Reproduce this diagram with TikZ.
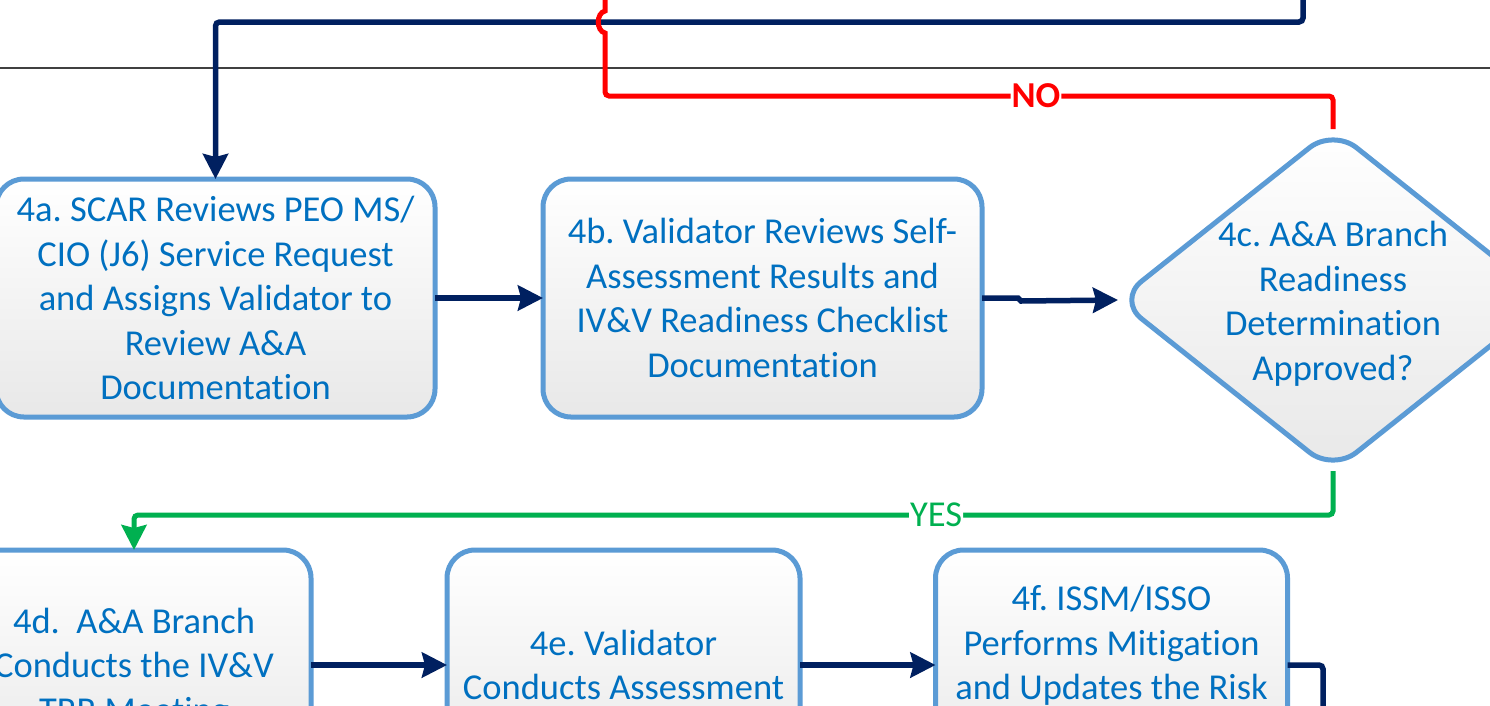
\documentclass[tikz,border=0pt]{standalone}
\usepackage{fontspec}
\setmainfont{Carlito}[Ligatures=NoCommon]
\usetikzlibrary{shapes.geometric,arrows.meta}
\definecolor{navy}{HTML}{002060}
\definecolor{txtblue}{HTML}{0070C0}
\definecolor{bordblue}{HTML}{5B9BD5}
\definecolor{ggreen}{HTML}{00B050}
\definecolor{sepgray}{HTML}{404040}
\frenchspacing
\begin{document}
\begin{tikzpicture}[x=1pt,y=-1pt,
  txt/.style={text=txtblue, align=center, font=\fontsize{36.5}{44.5}\selectfont},
  stepbox/.style={txt, draw=bordblue, line width=5pt, rounded corners=28pt,
    top color=white, bottom color=black!9, inner sep=0pt, outer sep=0pt},
  decbox/.style={diamond, draw=bordblue, line width=5pt, rounded corners=30pt,
    top color=white, bottom color=black!9, inner sep=0pt, outer sep=0pt},
  tip/.style={-{Stealth[length=25pt,width=25pt,inset=3pt]}},
  navyline/.style={draw=navy, line width=5.5pt},
  redline/.style={draw=red, line width=5pt},
  greenline/.style={draw=ggreen, line width=5pt, rounded corners=4pt},
  lbl/.style={fill=white, inner sep=1pt, font=\fontsize{36.5}{40}\selectfont}]
\useasboundingbox (0,0) rectangle (1490,705);
\clip (0,0) rectangle (1490,705);
\fill[white] (0,0) rectangle (1490,705);
% separator
\coordinate (sepL) at (0,67.5);
\coordinate (sepR) at (1490,67.5);
\draw[sepgray, line width=2pt] (sepL) -- (sepR);
% steps
\node[stepbox, minimum width=439pt, minimum height=238pt] (a4) at (215.5,298)
  {4a. SCAR Reviews PEO MS/\\CIO (J6) Service Request\\and Assigns Validator to\\Review A\&A\\Documentation};
\node[stepbox, minimum width=439pt, minimum height=238pt] (b4) at (762.5,298)
  {4b. Validator Reviews Self-\\Assessment Results and\\IV\&V Readiness Checklist\\Documentation};
\node[decbox, minimum width=430pt, minimum height=342pt,
  label={[txt, yshift=-4pt]center:{4c. A\&A Branch\\Readiness\\Determination\\Approved?}}] (c4) at (1333,300) {};
\node[stepbox, minimum width=354pt, minimum height=230pt] (d4) at (134,665)
  {4d.\ \ A\&A Branch\\Conducts the IV\&V\\\smash{TRR Meeting}};
\node[stepbox, minimum width=353pt, minimum height=230pt] (e4) at (623.5,665)
  {4e. Validator\\Conducts Assessment};
\node[stepbox, minimum width=352pt, minimum height=230pt] (f4) at (1111.5,665)
  {4f. ISSM/ISSO\\Performs Mitigation\\and Updates the Risk\\\mbox{}};
% free ends
\coordinate (topin) at (1303,-10);
\coordinate (noout) at (605,-10);
\coordinate (f4down) at (1323,720);
% connectors
\draw[navyline, rounded corners=4pt, tip] (topin) -- (1303,22) -- (215.5,22) -- (a4.north);
\draw[redline] (c4.north) [rounded corners=4pt] -- (1333,96)
  -- node[lbl, pos=0.408, text=red, font=\fontsize{36.5}{40}\selectfont\bfseries]{NO} (605,96)
  [sharp corners] -- (605,33) .. controls (596,31) and (596,13) .. (605,11) -- (noout);
\draw[navyline, tip] (a4.east) -- (b4.west);
\draw[navyline, tip] (b4.east) -- (1018,298) -- (1021,301) -- (c4.west);
\draw[greenline, tip] (c4.south) -- (1333,515)
  -- node[lbl, pos=0.331, text=ggreen]{YES} (134,515) -- (d4.north);
\draw[navyline, tip] (d4.east) -- (e4.west);
\draw[navyline, tip] (e4.east) -- (f4.west);
\draw[navyline, rounded corners=4pt] (f4.east) -- (1323,665) -- (f4down);
\end{tikzpicture}
\end{document}
